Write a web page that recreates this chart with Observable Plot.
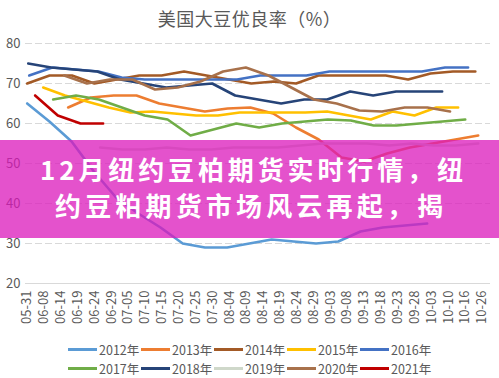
<!DOCTYPE html>
<html><head><meta charset="utf-8">
<script src="https://cdn.jsdelivr.net/npm/d3@7"></script>
<script src="https://cdn.jsdelivr.net/npm/@observablehq/plot@0.6"></script>
<style>
body{margin:0;background:#fff;font-family:"Noto Sans CJK SC","Noto Sans",sans-serif;}
#wrap{position:relative;width:499px;height:378px;overflow:hidden;background:#fff;}
#title{height:34px;line-height:36px;text-align:center;font-size:18px;color:#595959;letter-spacing:0.5px;}
#chart svg{display:block;}
#legend{display:grid;grid-template-columns:repeat(5,73px);grid-auto-rows:19px;margin-left:68px;padding-top:6px;}
.item{display:flex;align-items:center;font-size:12.5px;color:#595959;white-space:nowrap;}
.sw{display:inline-block;width:29px;height:3px;margin-right:2px;}
#band{position:absolute;left:0;top:140px;width:499px;height:98px;background:rgba(219,24,187,0.75);}
#bandText{position:absolute;left:0;top:0;}
#bandText text{fill:#fff;font-weight:bold;font-size:26px;font-family:"Noto Sans CJK SC","Noto Sans",sans-serif;}
</style></head>
<body>
<div id="wrap">
  <div id="title">美国大豆优良率（%）</div>
  <div id="chart"></div>
  <div id="legend"></div>
  <div id="band">
    <svg id="bandText" width="499" height="98">
      <text x="40" y="40" textLength="423" lengthAdjust="spacing">12月纽约豆柏期货实时行情，纽</text>
      <text x="55" y="76" textLength="388" lengthAdjust="spacing">约豆粕期货市场风云再起，揭</text>
    </svg>
  </div>
</div>
<script>
const dates = ["05-31","06-08","06-14","06-19","06-24","06-29","07-05","07-10","07-15","07-20","07-25","07-30","08-04","08-09","08-14","08-19","08-24","08-29","09-03","09-08","09-13","09-18","09-23","09-28","10-03","10-10","10-16","10-26"];
const years = ["2012年","2013年","2014年","2015年","2016年","2017年","2018年","2019年","2020年","2021年"];
const yTicks = [20,30,40,50,60,70,80];

// first and last position of each series, in category units along the date axis
const starts = [0, 2.43, 0, 0.95, 0.12, 1.54, 0.06, 4.33, 2.2, 0.47];
const ends   = [23.74, 26.77, 26.6, 25.58, 26.17, 26.0, 24.63, 26.77, 25.1, 4.51];

const v2012 = [65,60.5,55.5,48,41.5,37.5,34,30,29,29,30,31,30.5,30,30.5,33,34,34.5,35];
const v2013 = [64,66.5,67,67,65,64,63,63.75,64,62.5,59,56,51.5,50.5,52.5,54,55,56,57];
const v2014 = [70,72,72,70,71,72,72,73,72,71,70,70.5,70,72,72,72,72,71,72.5,73,73];
const v2015 = [69,67,65.5,64,62.75,63,62.5,62,62,62.75,62.75,62.75,62.75,63,62,61,63,62,64,64];
const v2016 = [72,74,73.5,73,71.5,71,71,71,71,71,72,72,72,73,73,73,73,73,74,74];
const v2017 = [66,67,66,64,62,61,57,58.5,60,59,60,60.5,61,60.75,59.5,59.5,60,60.5,61];
const v2018 = [75,74,73.5,73,71,70,69,69.5,70,67,66,65,66,66,68,67,68,68,68];
const v2019 = [54,53.5,53.5,54,53.5,53.5,54,54,54,54.5,55,55,55,54.5,55,54.5,54.5,55];
const v2020 = [72,70,71,71,68.5,69,70.5,73,74,72,69,66,65,63.25,63,64,64,63];
const v2021 = [67,62,60,60];

const colors = ["#5B9BD5","#ED7D31","#A35A26","#FFC000","#4472C4","#70AD47","#264478","#CFD8CA","#A8714B","#C00000"];

const valueLists = [v2012,v2013,v2014,v2015,v2016,v2017,v2018,v2019,v2020,v2021];
const rows = [];
valueLists.forEach((vals, k) => {
  const n = vals.length;
  vals.forEach((v, i) => {
    rows.push({year: years[k], x: starts[k] + i * (ends[k] - starts[k]) / (n - 1), y: v});
  });
});

const chart = Plot.plot({
  width: 499, height: 300,
  marginLeft: 25, marginRight: 9, marginTop: 9, marginBottom: 51,
  x: {domain: [-0.1, 27.5]},
  y: {domain: [20, 80]},
  color: {domain: years, range: colors},
  style: {fontFamily: '"Noto Sans CJK SC","Noto Sans",sans-serif', fontSize: "13px", color: "#595959", background: "white", overflow: "visible"},
  marks: [
    Plot.ruleY(yTicks.filter(d => d > 20), {stroke: "#D9D9D9", strokeWidth: 1, strokeDasharray: "7,3"}),
    Plot.ruleY([20], {stroke: "#D9D9D9", strokeWidth: 1.2}),
    Plot.axisY(yTicks, {tickSize: 0, tickPadding: 5, label: null, fill: "#595959", fontSize: 13}),
    Plot.axisX(d3.range(dates.length), {tickFormat: i => dates[i], tickRotate: -90, tickSize: 0, tickPadding: 7, label: null, fill: "#595959", fontSize: 13}),
    Plot.line(rows, {x: "x", y: "y", z: "year", stroke: "year", strokeWidth: 2.6, strokeLinejoin: "round", strokeLinecap: "round"})
  ]
});
document.getElementById("chart").appendChild(chart);

const legend = document.getElementById("legend");
years.forEach((y, k) => {
  const it = document.createElement("div");
  it.className = "item";
  const sw = document.createElement("span");
  sw.className = "sw";
  sw.style.background = colors[k];
  it.appendChild(sw);
  it.appendChild(document.createTextNode(y));
  legend.appendChild(it);
});
</script>
</body></html>
